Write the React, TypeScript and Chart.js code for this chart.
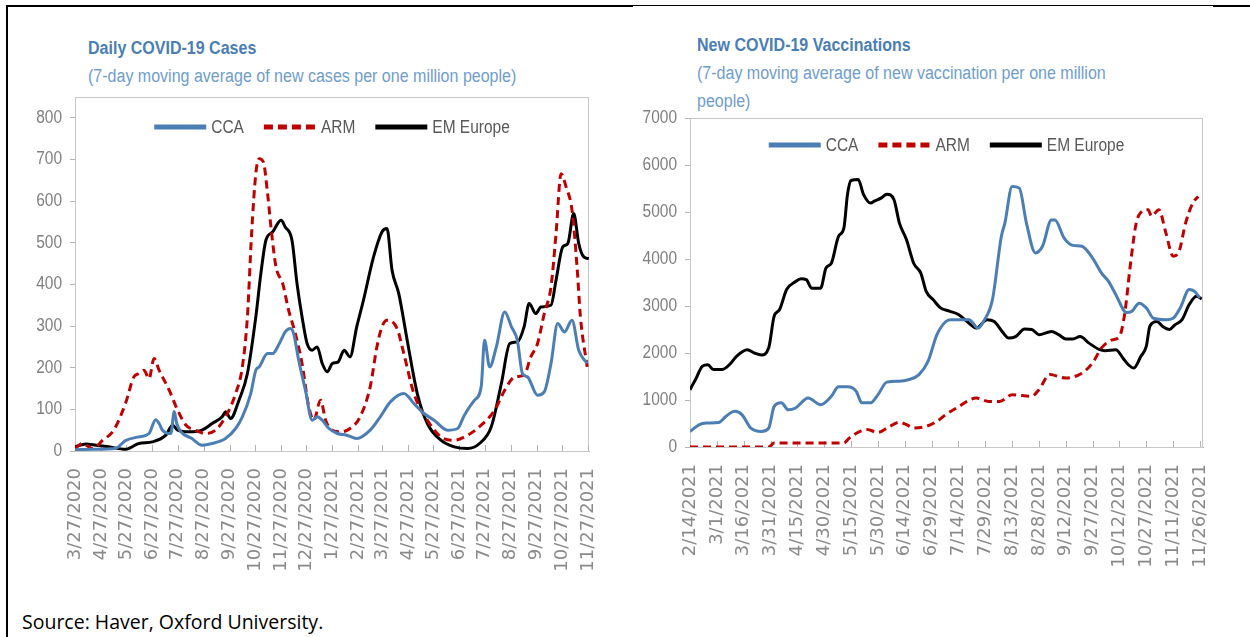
import React, { useEffect, useRef } from "react";
import { Chart, registerables } from "chart.js";

Chart.register(...registerables);

// ---------------- DATA: Daily COVID-19 cases (per million, 7-day MA) ----------------
const casesOrigin = "3/27/2020";
const casesTickLabels = [
  "3/27/2020", "4/27/2020", "5/27/2020", "6/27/2020", "7/27/2020", "8/27/2020", "9/27/2020",
  "10/27/2020", "11/27/2020", "12/27/2020", "1/27/2021", "2/27/2021", "3/27/2021", "4/27/2021",
  "5/27/2021", "6/27/2021", "7/27/2021", "8/27/2021", "9/27/2021", "10/27/2021", "11/27/2021",
];
const casesYTicks = [0, 100, 200, 300, 400, 500, 600, 700, 800];

const casesCcaDates = [
  "3/27/2020", "4/17/2020", "5/14/2020", "5/26/2020", "6/11/2020", "6/23/2020", "7/1/2020", "7/5/2020",
  "7/9/2020", "7/19/2020", "7/23/2020", "7/26/2020", "7/31/2020", "8/13/2020", "8/25/2020", "9/6/2020",
  "9/22/2020", "10/4/2020", "10/12/2020", "10/22/2020", "10/28/2020", "11/1/2020", "11/11/2020",
  "11/17/2020", "11/25/2020", "12/2/2020", "12/8/2020", "12/12/2020", "12/18/2020", "12/26/2020",
  "1/3/2021", "1/9/2021", "1/15/2021", "1/23/2021", "2/2/2021", "2/13/2021", "2/25/2021", "3/13/2021",
  "3/25/2021", "4/6/2021", "4/22/2021", "5/4/2021", "5/16/2021", "5/28/2021", "6/13/2021", "6/25/2021",
  "7/3/2021", "7/15/2021", "7/23/2021", "7/27/2021", "8/2/2021", "8/10/2021", "8/20/2021", "8/28/2021",
  "9/4/2021", "9/10/2021", "9/16/2021", "9/28/2021", "10/6/2021", "10/14/2021", "10/22/2021",
  "10/30/2021", "11/8/2021", "11/16/2021", "11/26/2021",
];
const casesCcaValues = [
  3, 4, 6, 25, 34, 42, 75, 66, 50, 42, 95, 66, 46, 30, 14, 18, 30, 54, 82, 138, 194, 202, 234, 234, 258,
  286, 294, 282, 218, 146, 74, 82, 74, 54, 42, 38, 30, 50, 82, 118, 138, 114, 90, 74, 50, 54, 86, 122, 154,
  266, 202, 250, 334, 298, 266, 186, 178, 134, 142, 210, 306, 286, 314, 242, 210,
];

const casesArmDates = [
  "3/27/2020", "4/5/2020", "4/17/2020", "4/29/2020", "5/12/2020", "5/26/2020", "6/5/2020", "6/11/2020",
  "6/17/2020", "6/23/2020", "6/29/2020", "7/5/2020", "7/17/2020", "7/27/2020", "8/6/2020", "8/17/2020",
  "8/29/2020", "9/10/2020", "9/22/2020", "10/4/2020", "10/12/2020", "10/18/2020", "10/23/2020",
  "10/28/2020", "11/1/2020", "11/6/2020", "11/11/2020", "11/15/2020", "11/21/2020", "11/29/2020",
  "12/6/2020", "12/14/2020", "12/22/2020", "12/30/2020", "1/5/2021", "1/13/2021", "1/19/2021",
  "1/27/2021", "2/6/2021", "2/17/2021", "3/1/2021", "3/13/2021", "3/21/2021", "3/27/2021", "4/2/2021",
  "4/14/2021", "4/22/2021", "5/4/2021", "5/20/2021", "6/5/2021", "6/21/2021", "7/7/2021", "7/23/2021",
  "8/8/2021", "8/20/2021", "9/1/2021", "9/12/2021", "9/20/2021", "9/28/2021", "10/6/2021", "10/14/2021",
  "10/20/2021", "10/26/2021", "11/1/2021", "11/8/2021", "11/14/2021", "11/18/2021", "11/26/2021",
];
const casesArmValues = [
  6, 18, 6, 26, 50, 114, 178, 186, 194, 174, 222, 194, 146, 98, 62, 50, 42, 50, 82, 138, 202, 322, 522,
  666, 702, 694, 618, 538, 442, 402, 338, 282, 210, 106, 74, 122, 74, 50, 46, 54, 82, 154, 250, 298, 314,
  294, 234, 138, 74, 34, 26, 38, 62, 98, 146, 178, 182, 226, 258, 330, 394, 522, 666, 634, 578, 442, 322,
  202,
];

const casesEmDates = [
  "3/27/2020", "4/9/2020", "4/21/2020", "5/6/2020", "5/26/2020", "6/11/2020", "6/27/2020", "7/13/2020",
  "7/21/2020", "7/27/2020", "8/10/2020", "8/25/2020", "9/6/2020", "9/18/2020", "9/22/2020", "9/28/2020",
  "10/8/2020", "10/18/2020", "10/28/2020", "11/3/2020", "11/9/2020", "11/17/2020", "11/27/2020",
  "12/2/2020", "12/10/2020", "12/16/2020", "12/22/2020", "12/28/2020", "1/3/2021", "1/9/2021",
  "1/15/2021", "1/21/2021", "1/27/2021", "2/3/2021", "2/10/2021", "2/17/2021", "2/25/2021", "3/5/2021",
  "3/17/2021", "3/27/2021", "4/2/2021", "4/8/2021", "4/16/2021", "4/26/2021", "5/8/2021", "5/20/2021",
  "6/5/2021", "6/21/2021", "7/7/2021", "7/21/2021", "8/4/2021", "8/16/2021", "8/26/2021", "9/4/2021",
  "9/12/2021", "9/18/2021", "9/26/2021", "10/2/2021", "10/14/2021", "10/20/2021", "10/28/2021",
  "11/3/2021", "11/10/2021", "11/16/2021", "11/22/2021", "11/28/2021",
];
const casesEmValues = [
  10, 17, 14, 10, 4, 18, 22, 38, 62, 50, 46, 50, 66, 82, 94, 78, 122, 186, 322, 426, 506, 526, 554, 538,
  506, 402, 322, 258, 242, 250, 210, 190, 210, 214, 242, 226, 298, 362, 466, 526, 534, 434, 378, 266, 138,
  66, 26, 10, 6, 18, 58, 162, 258, 262, 298, 354, 330, 346, 350, 410, 490, 498, 570, 498, 466, 462,
];

// ---------------- DATA: New COVID-19 vaccinations (per million, 7-day MA) ----------------
const vaxOrigin = "2/14/2021";
const vaxTickLabels = [
  "2/14/2021", "3/1/2021", "3/16/2021", "3/31/2021", "4/15/2021", "4/30/2021", "5/15/2021", "5/30/2021",
  "6/14/2021", "6/29/2021", "7/14/2021", "7/29/2021", "8/13/2021", "8/28/2021", "9/12/2021", "9/27/2021",
  "10/12/2021", "10/27/2021", "11/11/2021", "11/26/2021",
];
const vaxYTicks = [0, 1000, 2000, 3000, 4000, 5000, 6000, 7000];

const vaxCcaDates = [
  "2/14/2021", "2/19/2021", "2/23/2021", "3/2/2021", "3/6/2021", "3/11/2021", "3/15/2021", "3/20/2021",
  "3/26/2021", "3/30/2021", "4/2/2021", "4/6/2021", "4/10/2021", "4/14/2021", "4/21/2021", "4/28/2021",
  "5/4/2021", "5/8/2021", "5/13/2021", "5/18/2021", "5/21/2021", "5/26/2021", "5/30/2021", "6/4/2021",
  "6/11/2021", "6/16/2021", "6/22/2021", "6/27/2021", "7/2/2021", "7/7/2021", "7/10/2021", "7/20/2021",
  "7/25/2021", "7/28/2021", "8/2/2021", "8/7/2021", "8/9/2021", "8/13/2021", "8/17/2021", "8/21/2021",
  "8/26/2021", "8/30/2021", "9/4/2021", "9/6/2021", "9/11/2021", "9/16/2021", "9/21/2021", "9/27/2021",
  "10/2/2021", "10/6/2021", "10/10/2021", "10/16/2021", "10/19/2021", "10/23/2021", "10/27/2021",
  "10/31/2021", "11/7/2021", "11/11/2021", "11/15/2021", "11/20/2021", "11/23/2021", "11/26/2021",
];
const vaxCcaValues = [
  330, 470, 510, 520, 650, 760, 690, 400, 330, 400, 860, 940, 790, 830, 1040, 900, 1080, 1280, 1280, 1180,
  940, 940, 1110, 1380, 1400, 1430, 1540, 1820, 2390, 2670, 2710, 2710, 2530, 2670, 3130, 4480, 4770, 5540,
  5510, 4770, 4130, 4270, 4830, 4830, 4450, 4290, 4270, 4020, 3700, 3520, 3240, 2860, 2890, 3060, 2960,
  2740, 2710, 2740, 2960, 3350, 3310, 3170,
];

const vaxArmDates = [
  "2/14/2021", "3/30/2021", "4/2/2021", "5/11/2021", "5/14/2021", "5/20/2021", "5/24/2021", "5/30/2021",
  "6/4/2021", "6/11/2021", "6/15/2021", "6/19/2021", "6/26/2021", "7/2/2021", "7/7/2021", "7/13/2021",
  "7/24/2021", "7/31/2021", "8/6/2021", "8/13/2021", "8/24/2021", "8/28/2021", "9/3/2021", "9/12/2021",
  "9/21/2021", "9/27/2021", "10/2/2021", "10/8/2021", "10/12/2021", "10/15/2021", "10/18/2021",
  "10/21/2021", "10/23/2021", "10/28/2021", "10/30/2021", "11/3/2021", "11/7/2021", "11/11/2021",
  "11/14/2021", "11/18/2021", "11/22/2021", "11/25/2021",
];
const vaxArmValues = [
  0, 0, 85, 85, 190, 330, 370, 310, 400, 525, 475, 405, 440, 545, 690, 830, 1040, 970, 970, 1110, 1080,
  1220, 1540, 1470, 1570, 1790, 2110, 2280, 2350, 2850, 3840, 4690, 4940, 5050, 4910, 5050, 4550, 4060,
  4130, 4770, 5190, 5330,
];

const vaxEmDates = [
  "2/14/2021", "2/17/2021", "2/21/2021", "2/24/2021", "2/27/2021", "3/4/2021", "3/8/2021", "3/12/2021",
  "3/18/2021", "3/22/2021", "3/26/2021", "3/30/2021", "4/2/2021", "4/5/2021", "4/9/2021", "4/14/2021",
  "4/17/2021", "4/20/2021", "4/23/2021", "4/28/2021", "5/1/2021", "5/4/2021", "5/8/2021", "5/11/2021",
  "5/13/2021", "5/15/2021", "5/19/2021", "5/22/2021", "5/26/2021", "5/28/2021", "6/1/2021", "6/4/2021",
  "6/8/2021", "6/11/2021", "6/15/2021", "6/19/2021", "6/23/2021", "6/26/2021", "6/30/2021", "7/4/2021",
  "7/9/2021", "7/14/2021", "7/22/2021", "7/24/2021", "7/30/2021", "8/3/2021", "8/8/2021", "8/11/2021",
  "8/15/2021", "8/20/2021", "8/24/2021", "8/28/2021", "9/4/2021", "9/8/2021", "9/12/2021", "9/16/2021",
  "9/20/2021", "9/25/2021", "10/1/2021", "10/4/2021", "10/10/2021", "10/14/2021", "10/17/2021",
  "10/20/2021", "10/24/2021", "10/27/2021", "10/29/2021", "11/2/2021", "11/5/2021", "11/9/2021",
  "11/12/2021", "11/16/2021", "11/20/2021", "11/24/2021", "11/27/2021",
];
const vaxEmValues = [
  1220, 1430, 1720, 1750, 1650, 1650, 1750, 1930, 2070, 2000, 1960, 2110, 2780, 2920, 3350, 3520, 3580,
  3560, 3380, 3380, 3810, 3910, 4480, 4660, 5370, 5670, 5690, 5370, 5190, 5230, 5300, 5380, 5260, 4770,
  4410, 3910, 3700, 3310, 3130, 2960, 2890, 2820, 2570, 2530, 2710, 2670, 2430, 2320, 2350, 2510, 2500,
  2390, 2460, 2390, 2300, 2300, 2350, 2210, 2070, 2050, 2070, 1890, 1750, 1680, 1930, 2140, 2570, 2670,
  2570, 2500, 2600, 2710, 3030, 3210, 3150,
];

const seriesNames = ["CCA", "ARM", "EM Europe"];
const seriesColors = ["#4a7eb4", "#c00000", "#000000"];

// ---------------- helpers ----------------
function dayNumber(label: string): number {
  const [m, d, y] = label.split("/").map(Number);
  return Date.UTC(y, m - 1, d) / 86400000;
}
function daysSince(label: string, origin: string): number {
  return dayNumber(label) - dayNumber(origin);
}

const SANS = '"Liberation Sans", Arial, sans-serif';
const AXIS_GRAY = "#b4b4b4";
const CONDENSE = 0.86;

// plot frame, inside x tick marks and condensed y tick labels
const frameAndTicksPlugin = {
  id: "frameAndTicks",
  beforeDatasetsDraw(chart: any) {
    const { ctx, chartArea } = chart;
    ctx.save();
    ctx.strokeStyle = "#c8c8c8";
    ctx.lineWidth = 1;
    ctx.strokeRect(
      chartArea.left + 0.5,
      chartArea.top + 0.5,
      chartArea.right - chartArea.left - 1,
      chartArea.bottom - chartArea.top
    );
    const xs = chart.scales.x;
    ctx.strokeStyle = AXIS_GRAY;
    ctx.beginPath();
    xs.ticks.forEach((t: any) => {
      const px = Math.round(xs.getPixelForValue(t.value)) + 0.5;
      ctx.moveTo(px, chartArea.bottom);
      ctx.lineTo(px, chartArea.bottom - 6);
    });
    ctx.stroke();

    const ys = chart.scales.y;
    ctx.fillStyle = "#7f7f7f";
    ctx.font = `18px ${SANS}`;
    ctx.textAlign = "right";
    ctx.textBaseline = "middle";
    ys.ticks.forEach((t: any) => {
      const py = ys.getPixelForValue(t.value);
      ctx.save();
      ctx.translate(chartArea.left - 13, py);
      ctx.scale(CONDENSE, 1);
      ctx.fillText(String(t.value), 0, 0);
      ctx.restore();
    });
    ctx.restore();
  },
};

const insideLegendPlugin = {
  id: "insideLegend",
  afterDatasetsDraw(chart: any, _args: any, opts: any) {
    const { ctx, chartArea } = chart;
    ctx.save();
    ctx.font = `18px ${SANS}`;
    const sample = 52;
    const gap = 5;
    const itemGap = 20;
    const items = chart.data.datasets.map((ds: any) => ({ ds, w: ctx.measureText(ds.label).width * CONDENSE }));
    const total =
      items.reduce((s: number, it: any) => s + sample + gap + it.w, 0) + itemGap * (items.length - 1);
    let x = (chartArea.left + chartArea.right) / 2 - total / 2;
    const y = chartArea.top + (opts.offsetY || 28);
    items.forEach((it: any) => {
      ctx.beginPath();
      ctx.strokeStyle = it.ds.borderColor;
      ctx.lineWidth = 5;
      ctx.lineCap = "butt";
      ctx.setLineDash(it.ds.borderDash && it.ds.borderDash.length ? [9, 5] : []);
      ctx.moveTo(x, y);
      ctx.lineTo(x + sample, y);
      ctx.stroke();
      ctx.setLineDash([]);
      ctx.fillStyle = "#595959";
      ctx.textBaseline = "middle";
      ctx.textAlign = "left";
      ctx.save();
      ctx.translate(x + sample + gap, y + 1);
      ctx.scale(CONDENSE, 1);
      ctx.fillText(it.ds.label, 0, 0);
      ctx.restore();
      x += sample + gap + it.w + itemGap;
    });
    ctx.restore();
  },
};

function makeDataset(i: number, dates: string[], values: number[], origin: string) {
  return {
    label: seriesNames[i],
    data: dates.map((d, k) => ({ x: daysSince(d, origin), y: values[k] })),
    borderColor: seriesColors[i],
    backgroundColor: seriesColors[i],
    borderWidth: 3,
    borderDash: i === 1 ? [8, 5] : [],
    pointRadius: 0,
    cubicInterpolationMode: "monotone",
    fill: false,
  };
}

type ChartSpec = {
  width: number;
  height: number;
  padding: { top: number; right: number; left: number; bottom: number };
  yWidth: number;
  xHeight: number;
  origin: string;
  tickLabels: string[];
  xMax: number;
  yMax: number;
  yTicks: number[];
  datasets: any[];
  legendOffset: number;
};

function LineChart({ spec }: { spec: ChartSpec }) {
  const ref = useRef<HTMLCanvasElement | null>(null);
  useEffect(() => {
    if (!ref.current) return;
    const tickValues = spec.tickLabels.map((l) => daysSince(l, spec.origin));
    const chart = new Chart(ref.current, {
      type: "line",
      data: { datasets: spec.datasets },
      plugins: [frameAndTicksPlugin, insideLegendPlugin],
      options: {
        animation: false,
        responsive: false,
        devicePixelRatio: 1,
        layout: { padding: spec.padding },
        plugins: {
          legend: { display: false },
          tooltip: { enabled: false },
          insideLegend: { offsetY: spec.legendOffset },
        } as any,
        scales: {
          x: {
            type: "linear",
            min: 0,
            max: spec.xMax,
            afterBuildTicks: (scale: any) => {
              scale.ticks = tickValues.map((v) => ({ value: v }));
            },
            afterFit: (scale: any) => {
              scale.height = spec.xHeight;
              scale.paddingLeft = 0;
              scale.paddingRight = 0;
            },
            grid: { display: false, drawTicks: false },
            border: { display: true, color: AXIS_GRAY, width: 1 },
            ticks: {
              autoSkip: false,
              minRotation: 90,
              maxRotation: 90,
              padding: 17,
              color: "#8a8a8a",
              font: { family: '"DejaVu Sans", sans-serif', size: 18 },
              callback: (_v: any, idx: number) => spec.tickLabels[idx],
            },
          },
          y: {
            type: "linear",
            min: 0,
            max: spec.yMax,
            afterBuildTicks: (scale: any) => {
              scale.ticks = spec.yTicks.map((v) => ({ value: v }));
            },
            afterFit: (scale: any) => {
              scale.width = spec.yWidth;
              scale.paddingTop = 0;
              scale.paddingBottom = 0;
            },
            grid: { display: true, drawOnChartArea: false, drawTicks: true, tickLength: 5, color: AXIS_GRAY },
            border: { display: true, color: AXIS_GRAY, width: 1 },
            ticks: { display: false },
          },
        },
      } as any,
    });
    return () => chart.destroy();
  }, [spec]);
  return <canvas ref={ref} width={spec.width} height={spec.height} style={{ display: "block" }} />;
}

const casesSpec: ChartSpec = {
  width: 620,
  height: 490,
  padding: { top: 17, right: 31, left: 0, bottom: 0 },
  yWidth: 75,
  xHeight: 119,
  origin: casesOrigin,
  tickLabels: casesTickLabels,
  xMax: 611.2,
  yMax: 850,
  yTicks: casesYTicks,
  legendOffset: 30,
  datasets: [
    makeDataset(0, casesCcaDates, casesCcaValues, casesOrigin),
    makeDataset(1, casesArmDates, casesArmValues, casesOrigin),
    makeDataset(2, casesEmDates, casesEmValues, casesOrigin),
  ],
};

const vaxSpec: ChartSpec = {
  width: 620,
  height: 490,
  padding: { top: 38, right: 47, left: 0, bottom: 0 },
  yWidth: 60,
  xHeight: 123,
  origin: vaxOrigin,
  tickLabels: vaxTickLabels,
  xMax: 286.7,
  yMax: 7000,
  yTicks: vaxYTicks,
  legendOffset: 27,
  datasets: [
    makeDataset(0, vaxCcaDates, vaxCcaValues, vaxOrigin),
    makeDataset(1, vaxArmDates, vaxArmValues, vaxOrigin),
    makeDataset(2, vaxEmDates, vaxEmValues, vaxOrigin),
  ],
};

const textBase: React.CSSProperties = {
  position: "absolute",
  fontFamily: SANS,
  fontSize: 18,
  whiteSpace: "nowrap",
  transform: "scaleX(0.89)",
  transformOrigin: "left center",
};
const titleStyle: React.CSSProperties = { ...textBase, fontWeight: 700, color: "#4a7eb4", lineHeight: "22px" };
const subStyle: React.CSSProperties = { ...textBase, color: "#6f9dcc", lineHeight: "28px" };

export default function App() {
  return (
    <div
      style={{
        position: "absolute",
        left: 0,
        top: 0,
        width: 1250,
        height: 637,
        background: "#fff",
        overflow: "hidden",
      }}
    >
      {/* frame lines */}
      <div style={{ position: "absolute", left: 6, top: 5, width: 2, height: 632, background: "#000" }} />
      <div style={{ position: "absolute", left: 6, top: 5, width: 627, height: 2, background: "#000" }} />
      <div style={{ position: "absolute", left: 633, top: 5, width: 580, height: 1, background: "#000" }} />
      <div style={{ position: "absolute", left: 1213, top: 5, width: 37, height: 2, background: "#000" }} />

      {/* left titles */}
      <div style={{ ...titleStyle, left: 88, top: 37 }}>Daily COVID-19 Cases</div>
      <div style={{ ...subStyle, left: 88, top: 62 }}>
        (7-day moving average of new cases per one million people)
      </div>

      {/* right titles */}
      <div style={{ ...titleStyle, left: 697, top: 34 }}>New COVID-19 Vaccinations</div>
      <div style={{ ...subStyle, left: 697, top: 59 }}>
        (7-day moving average of new vaccination per one million
        <br />
        people)
      </div>

      <div style={{ position: "absolute", left: 0, top: 80 }}>
        <LineChart spec={casesSpec} />
      </div>
      <div style={{ position: "absolute", left: 630, top: 80 }}>
        <LineChart spec={vaxSpec} />
      </div>

      <div
        style={{
          position: "absolute",
          left: 22,
          top: 610,
          fontFamily: '"Open Sans", sans-serif',
          fontSize: 19.5,
          lineHeight: "24px",
          color: "#000",
          whiteSpace: "nowrap",
        }}
      >
        Source: Haver, Oxford University.
      </div>
    </div>
  );
}
